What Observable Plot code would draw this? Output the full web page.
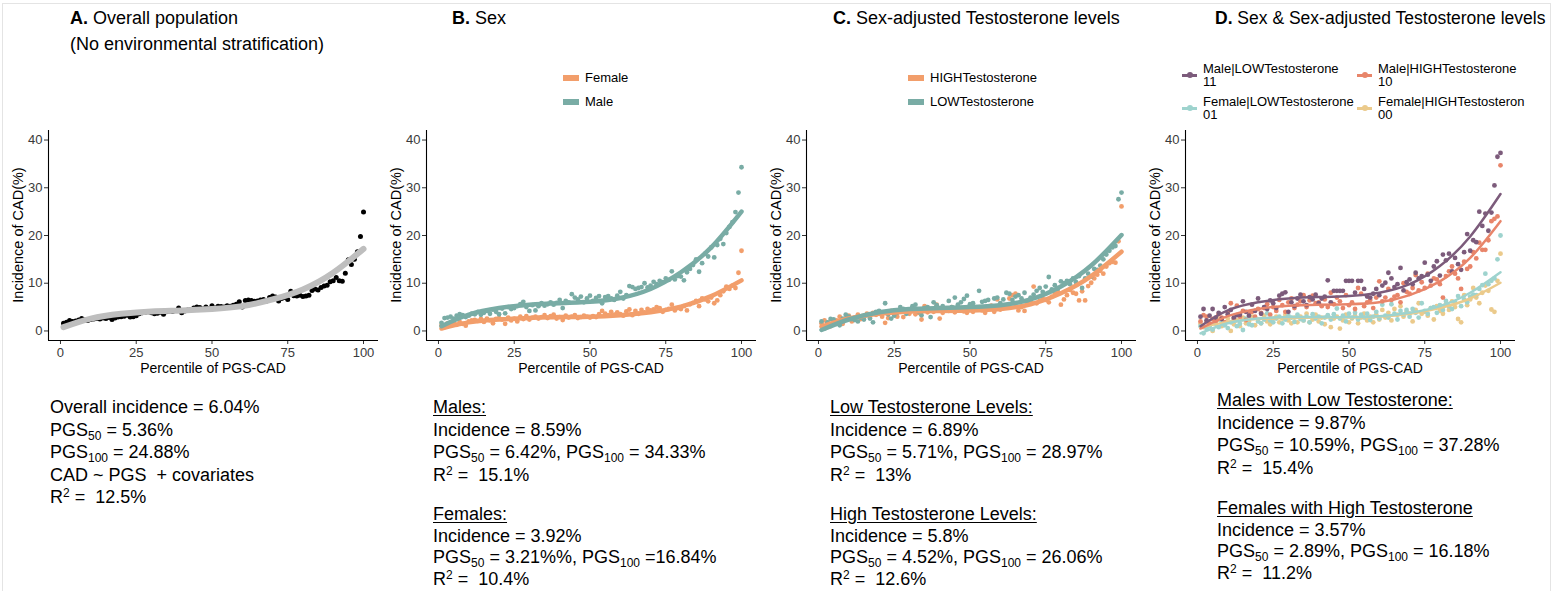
<!DOCTYPE html>
<html>
<head>
<meta charset="utf-8">
<script src="https://cdn.jsdelivr.net/npm/d3@7"></script>
<script src="https://cdn.jsdelivr.net/npm/@observablehq/plot@0.6"></script>
<style>
  html, body { margin: 0; padding: 0; background: #fff; }
  #fig { position: relative; width: 1556px; height: 591px; overflow: hidden; background: #fff;
         font-family: "Liberation Sans", Arial, sans-serif; color: #000; }
  .abs { position: absolute; white-space: nowrap; }
  .title { font-size: 18px; line-height: 26px; }
  .title b { font-weight: bold; }
  .ytitle { font-size: 14.5px; transform: translate(-50%, -50%) rotate(-90deg); }
  .xtitle { font-size: 14px; transform: translate(-50%, -50%); }
  .leg { font-size: 13px; line-height: 13px; }
  .stats { font-size: 18px; line-height: 22.5px; }
  .stats.tight { line-height: 21.5px; }
  .stats sub { font-size: 12px; vertical-align: -4px; line-height: 0; }
  .stats sup { font-size: 12px; vertical-align: 6px; line-height: 0; }
  .u { text-decoration: underline; text-underline-offset: 2px; }
</style>
</head>
<body>
<div id="fig"></div>
<script>
// ---------------- DATA ----------------
const percentiles = d3.range(1, 101);
const xTicks = [0, 25, 50, 75, 100];
const yTicks = [0, 10, 20, 30, 40];
const fitX = [1, 10, 20, 30, 40, 50, 60, 70, 80, 90, 100];

// Panel A: overall population
const overallPts = [1.6,1.8,2.2,2.0,2.1,2.3,2.6,2.3,2.2,2.4,
2.5,2.6,2.5,2.7,2.6,2.8,2.4,2.7,2.9,3.0,
3.1,3.3,2.9,3.0,3.2,3.6,3.8,3.9,4.0,3.8,
3.6,3.7,3.9,3.5,4.0,4.2,4.1,4.3,4.8,3.8,
4.2,4.4,4.5,4.8,5.0,4.9,4.6,5.0,4.7,5.3,
4.8,5.2,5.1,5.0,5.3,5.2,5.4,5.6,6.1,5.0,
6.4,6.5,6.4,6.2,6.3,6.5,6.6,6.3,7.0,7.3,
7.1,6.3,6.8,7.0,6.6,8.3,7.4,7.3,7.5,7.2,
7.3,7.5,8.5,8.8,8.6,9.1,9.4,9.6,10.3,10.5,
11.2,10.5,10.4,12.1,14.9,13.9,15.0,16.6,19.8,24.9];
const overallFit = [0.8,2.6,3.6,4.1,4.3,4.6,5.2,6.6,8.7,12.2,17.2];

// Panel B: sex
const malePts = [1.7,2.7,2.8,3.0,2.6,3.2,3.5,3.3,2.9,3.2,
3.6,3.5,4.0,3.4,3.8,4.2,3.6,4.5,4.0,3.5,
4.7,3.7,5.0,4.6,4.8,5.2,5.6,6.1,5.0,4.2,
5.4,4.3,5.2,5.8,5.3,5.6,6.0,5.5,5.9,6.5,
4.8,6.3,6.0,7.7,7.0,6.6,7.2,6.0,6.8,7.4,
6.3,6.9,7.3,5.8,7.1,7.3,6.8,6.5,7.4,8.2,
6.8,7.5,9.4,9.2,8.8,9.0,9.2,10.0,9.1,9.5,
10.3,9.8,10.5,10.2,11.0,10.7,12.5,10.8,11.5,11.4,
10.6,12.3,13.0,13.8,15.0,12.4,14.2,16.2,15.6,17.5,
15.4,18.0,19.3,18.2,20.5,21.8,22.8,24.9,29.0,34.3];
const femalePts = [1.2,0.8,1.6,1.2,1.8,1.3,1.9,1.5,1.1,2.0,
2.2,2.3,2.1,2.5,1.9,2.6,2.2,1.6,2.5,2.7,
2.4,1.5,2.8,2.2,2.6,2.0,3.0,2.5,3.1,2.4,
2.8,3.0,2.6,2.9,3.3,2.7,3.1,3.4,2.6,2.9,
2.3,3.2,2.8,3.0,3.3,2.7,2.9,3.2,3.0,2.8,
3.1,2.9,3.5,4.2,3.6,3.3,4.0,3.4,3.9,3.5,
3.2,4.1,4.5,3.3,4.2,3.6,4.4,3.9,4.6,4.3,
4.5,5.0,4.8,4.0,4.4,4.6,5.5,4.3,4.8,4.6,
5.2,4.3,5.6,5.9,6.3,5.2,6.8,6.6,6.2,7.0,
5.8,6.4,7.5,8.3,9.3,8.8,9.5,9.0,12.2,16.8];
const maleFit = [1.0,3.4,4.8,5.5,5.8,6.1,6.9,8.8,12.3,17.5,25.0];
const femaleFit = [0.5,1.8,2.4,2.7,2.9,3.0,3.3,3.9,5.1,7.3,10.6];

// Panel C: sex-adjusted testosterone
const lowTPts = [2.0,0.5,1.8,2.5,2.4,1.5,1.2,2.6,3.4,3.0,
2.5,2.3,2.0,2.8,2.4,3.3,2.6,1.8,4.0,4.2,
3.8,5.8,3.5,2.6,3.2,3.8,5.0,4.6,3.6,4.5,
5.2,5.5,4.0,3.3,4.8,5.0,2.9,6.0,5.4,4.6,
5.2,4.4,6.3,5.0,7.0,5.5,6.0,6.7,7.4,5.6,
5.8,4.8,8.4,6.1,6.3,6.5,5.2,6.8,7.0,5.8,
6.6,8.0,7.8,6.5,7.2,7.5,6.8,8.0,6.2,7.0,
7.6,8.4,9.0,8.2,9.3,11.3,8.7,9.6,8.9,10.4,
10.0,10.5,9.8,11.0,10.2,11.5,9.0,11.0,12.0,11.4,
13.0,12.8,13.7,15.0,16.0,16.8,17.5,17.8,27.6,29.0];
const highTPts = [1.6,2.2,1.8,1.0,1.5,2.2,3.0,1.5,2.6,3.2,
2.0,2.8,3.4,2.5,3.0,3.6,2.9,3.8,3.4,3.9,
3.0,1.7,2.7,4.2,3.5,3.0,4.4,2.9,4.0,3.6,
4.8,3.5,3.8,2.4,5.2,3.9,4.4,4.0,5.5,2.6,
3.8,4.6,4.2,5.0,3.9,4.5,4.8,4.1,3.8,4.4,
4.0,4.7,5.0,4.3,3.8,4.6,5.3,4.0,6.6,4.5,
4.8,5.4,6.8,7.5,7.8,4.3,5.0,4.2,5.6,6.2,
9.3,5.8,6.3,6.8,6.5,6.0,7.2,7.8,8.2,5.5,
6.6,7.5,8.6,8.0,7.8,6.4,8.3,6.4,9.4,10.1,
11.0,11.8,12.6,12.0,13.5,14.2,14.5,14.3,18.8,26.1];
const lowTFit = [0.2,2.4,3.9,4.6,4.8,5.0,5.4,6.6,9.3,13.7,20.1];
const highTFit = [0.9,2.6,3.6,4.1,4.2,4.3,4.6,5.6,7.9,11.5,16.6];

// Panel D: sex x testosterone
const maleLowPts = [3.0,4.6,2.2,3.2,4.6,2.8,3.8,2.5,5.0,3.5,
4.4,2.8,3.3,3.4,6.2,4.0,3.2,5.5,4.2,6.8,
3.6,5.0,4.6,6.4,5.8,4.8,7.4,7.8,8.1,4.0,
6.0,5.2,6.8,7.6,6.2,5.4,7.1,6.6,7.6,5.8,
6.8,7.2,10.6,6.0,8.4,8.4,8.4,8.4,10.5,10.5,
10.5,8.0,10.5,10.5,8.8,7.2,7.0,7.8,8.8,7.5,
9.5,10.1,12.2,11.0,9.2,9.8,13.2,8.5,10.2,10.8,
9.8,12.2,11.0,11.5,14.3,11.8,10.5,13.5,14.6,11.6,
16.0,14.8,16.2,12.5,15.3,14.0,12.8,16.5,20.3,16.8,
19.0,18.6,25.0,22.0,24.6,21.0,24.8,30.5,36.5,37.3];
const maleHighPts = [2.0,3.3,3.0,1.6,2.5,2.0,3.5,2.8,1.8,3.9,
5.8,2.6,5.3,3.0,4.2,2.3,3.6,4.0,3.0,4.6,
3.8,4.8,5.6,3.4,5.0,4.2,6.5,5.4,4.0,6.0,
6.8,4.8,5.5,6.2,7.5,5.0,6.4,7.4,5.8,6.0,
5.2,6.6,5.0,8.0,5.6,7.0,6.2,4.8,7.5,5.4,
6.0,4.6,9.0,7.8,5.2,6.0,6.5,4.8,7.0,10.4,
6.2,7.0,8.8,6.5,7.2,7.5,6.0,10.0,8.2,7.8,
9.0,11.7,8.5,10.2,9.0,12.0,9.5,11.0,10.8,9.8,
7.0,11.5,12.5,13.5,12.0,11.0,8.8,14.5,13.0,13.5,
16.5,15.2,18.5,17.0,17.0,19.0,23.0,23.5,24.0,34.7];
const femaleLowPts = [1.0,-0.5,0.5,1.0,0.3,1.5,0.8,2.0,1.2,0.6,
1.8,2.4,1.0,1.5,0.2,2.6,1.4,1.2,2.8,2.0,
1.6,2.4,3.7,2.2,1.8,2.6,3.0,1.6,2.4,3.2,
2.8,1.9,3.4,2.5,2.2,3.0,1.8,3.5,2.6,3.0,
1.6,2.8,3.3,2.4,3.5,4.7,2.6,3.2,2.0,3.6,
2.8,3.8,2.4,3.4,2.8,3.6,2.3,3.0,4.0,2.6,
5.5,3.2,2.8,5.6,3.6,2.4,4.2,3.4,4.4,3.0,
4.6,3.8,2.8,5.8,4.2,3.6,4.8,5.0,3.8,5.4,
4.4,6.3,5.2,4.6,6.0,7.3,5.2,6.6,6.0,7.2,
7.6,7.5,8.8,9.6,12.0,9.8,10.5,11.0,15.0,20.0];
const femaleHighPts = [1.5,0.8,2.0,1.2,0.0,1.6,2.4,1.0,1.8,2.6,
0.0,1.4,2.2,1.0,2.8,1.6,2.0,3.0,1.2,2.4,
1.6,3.2,2.0,1.4,2.6,3.0,1.8,2.6,3.4,2.2,
1.6,2.8,1.8,3.0,2.2,3.6,1.8,2.4,3.4,2.0,
2.8,1.4,3.2,0.8,2.6,3.0,0.5,2.2,3.4,1.8,
2.6,3.2,1.6,2.8,3.6,2.2,3.0,1.8,3.4,2.4,
4.4,2.8,3.8,2.2,4.6,3.4,5.2,3.0,4.0,3.6,
2.0,4.4,5.8,3.6,4.0,3.2,4.8,2.4,5.2,4.2,
3.6,5.6,4.4,6.2,5.0,2.5,1.8,7.5,5.4,6.6,
9.0,7.0,5.8,8.0,9.5,8.4,4.5,4.0,10.5,16.2];
const maleLowFit = [1.0,4.3,6.0,6.8,7.1,7.3,8.0,9.8,13.6,19.8,28.7];
const maleHighFit = [0.5,3.1,4.6,5.3,5.5,5.6,6.0,7.5,10.4,15.3,23.0];
const femaleLowFit = [-0.5,1.6,2.6,2.9,2.9,2.9,3.1,3.8,5.2,8.0,12.3];
const femaleHighFit = [0.7,1.9,2.5,2.7,2.8,2.8,3.0,3.6,4.8,6.8,10.1];

// ---------------- STYLE ----------------
const C = {
  black: "#000000", gray: "#BEBEBE",
  teal: "#79ACA5", orange: "#F29E6B",
  purple: "#7C5B7B", coral: "#E8856A", ltteal: "#9ED3CE", tan: "#EBCA8B"
};
const X0 = -3.95, X1 = 104.95, Y0 = -2, Y1 = 42;
const fig = document.getElementById("fig");

function place(el, left, top) {
  el.style.position = "absolute";
  el.style.left = left + "px";
  el.style.top = top + "px";
  fig.appendChild(el);
}
function html(cls, left, top, content) {
  const d = document.createElement("div");
  d.className = "abs " + cls;
  d.innerHTML = content;
  place(d, left, top);
  return d;
}

function panel(left, groups, fitWidth, r) {
  const marks = [
    Plot.axisX({ticks: xTicks, tickSize: 4, tickPadding: 3, label: null, stroke: "#333", fill: "#3a3a3a", fontSize: 13}),
    Plot.axisY({ticks: yTicks, tickSize: 4, tickPadding: 2, label: null, stroke: "#333", fill: "#3a3a3a", fontSize: 13}),
    Plot.ruleX([X0], {stroke: "#000", strokeWidth: 1.1}),
    Plot.ruleY([Y0], {stroke: "#000", strokeWidth: 1.1})
  ];
  for (const g of groups) {
    marks.push(Plot.dot(percentiles.map((p, i) => ({x: p, y: g.pts[i]})),
      {x: "x", y: "y", r: r, fill: g.ptColor, stroke: "none"}));
  }
  for (const g of groups) {
    marks.push(Plot.line(fitX.map((p, i) => ({x: p, y: g.fit[i]})),
      {x: "x", y: "y", stroke: g.lineColor, strokeWidth: fitWidth, curve: "natural"}));
  }
  const svg = Plot.plot({
    width: 385, height: 255,
    marginLeft: 48, marginRight: 7, marginTop: 5, marginBottom: 40,
    x: {domain: [X0, X1], axis: null},
    y: {domain: [Y0, Y1], axis: null},
    style: {fontFamily: "'Liberation Sans', Arial, sans-serif", fontSize: "13px", background: "transparent", overflow: "visible"},
    marks
  });
  place(svg, left, 125);
  // axis titles
  html("xtitle", left + 48 + 165, 368, "Percentile of PGS-CAD");
  html("ytitle", left + 18, 235, "Incidence of CAD(%)");
}

// frame border
const border = document.createElement("div");
border.style.cssText = "position:absolute;left:2px;top:3px;width:1547px;height:640px;border:1px solid #e4e4e4;";
fig.appendChild(border);

// Panels
panel(0, [{pts: overallPts, fit: overallFit, ptColor: C.black, lineColor: C.gray}], 6, 2.5);
panel(378, [
  {pts: femalePts, fit: femaleFit, ptColor: C.orange, lineColor: C.orange},
  {pts: malePts, fit: maleFit, ptColor: C.teal, lineColor: C.teal}], 4.5, 2.4);
panel(758, [
  {pts: highTPts, fit: highTFit, ptColor: C.orange, lineColor: C.orange},
  {pts: lowTPts, fit: lowTFit, ptColor: C.teal, lineColor: C.teal}], 4.5, 2.4);
panel(1137, [
  {pts: femaleHighPts, fit: femaleHighFit, ptColor: C.tan, lineColor: C.tan},
  {pts: femaleLowPts, fit: femaleLowFit, ptColor: C.ltteal, lineColor: C.ltteal},
  {pts: maleHighPts, fit: maleHighFit, ptColor: C.coral, lineColor: C.coral},
  {pts: maleLowPts, fit: maleLowFit, ptColor: C.purple, lineColor: C.purple}], 2.5, 2.4);

// Titles
html("title", 70, 5, "<b>A.</b> Overall population<br>(No environmental stratification)");
html("title", 452, 5, "<b>B.</b> Sex");
html("title", 833, 5, "<b>C.</b> Sex-adjusted Testosterone levels");
const tD = html("title", 1215, 5, "<b>D.</b> Sex &amp; Sex-adjusted Testosterone levels");
tD.style.fontSize = "17.5px";

// Legends B and C
function swatchLegend(x, items) {
  items.forEach((it, i) => {
    const y = 78 + i * 24;
    const s = document.createElement("div");
    s.style.cssText = `position:absolute;left:${x}px;top:${y - 3}px;width:16px;height:6px;background:${it.color};`;
    fig.appendChild(s);
    html("leg", x + 22, y - 7, it.label);
  });
}
swatchLegend(563, [{label: "Female", color: C.orange}, {label: "Male", color: C.teal}]);
swatchLegend(908, [{label: "HIGHTestosterone", color: C.orange}, {label: "LOWTestosterone", color: C.teal}]);

// Legend D
function dLegendItem(x, y, color, l1, l2) {
  const s = document.createElement("div");
  s.style.cssText = `position:absolute;left:${x}px;top:${y - 1.5}px;width:15px;height:3px;background:${color};`;
  fig.appendChild(s);
  const dot = document.createElement("div");
  dot.style.cssText = `position:absolute;left:${x + 4.5}px;top:${y - 3}px;width:6px;height:6px;border-radius:50%;background:${color};`;
  fig.appendChild(dot);
  html("leg", x + 21, y - 13, l1 + "<br>" + l2);
}
dLegendItem(1182, 75, C.purple, "Male|LOWTestosterone", "11");
dLegendItem(1357, 75, C.coral, "Male|HIGHTestosterone", "10");
dLegendItem(1182, 108, C.ltteal, "Female|LOWTestosterone", "01");
dLegendItem(1357, 108, C.tan, "Female|HIGHTestosteron", "00");

// Stats text
html("stats", 50, 396,
  "Overall incidence = 6.04%<br>PGS<sub>50</sub> = 5.36%<br>PGS<sub>100</sub> = 24.88%<br>CAD ~ PGS&nbsp; + covariates<br>R<sup>2</sup> =&nbsp; 12.5%");
html("stats", 433, 396,
  "<span class='u'>Males:</span><br>Incidence = 8.59%<br>PGS<sub>50</sub> = 6.42%, PGS<sub>100</sub> = 34.33%<br>R<sup>2</sup> =&nbsp; 15.1%");
html("stats tight", 433, 504,
  "<span class='u'>Females:</span><br>Incidence = 3.92%<br>PGS<sub>50</sub> = 3.21%%, PGS<sub>100</sub> =16.84%<br>R<sup>2</sup> =&nbsp; 10.4%");
html("stats", 830, 396,
  "<span class='u'>Low Testosterone Levels:</span><br>Incidence = 6.89%<br>PGS<sub>50</sub> = 5.71%, PGS<sub>100</sub> = 28.97%<br>R<sup>2</sup> =&nbsp; 13%");
html("stats tight", 830, 504,
  "<span class='u'>High Testosterone Levels:</span><br>Incidence = 5.8%<br>PGS<sub>50</sub> = 4.52%, PGS<sub>100</sub> = 26.06%<br>R<sup>2</sup> =&nbsp; 12.6%");
html("stats", 1217, 389,
  "<span class='u'>Males with Low Testosterone:</span><br>Incidence = 9.87%<br>PGS<sub>50</sub> = 10.59%, PGS<sub>100</sub> = 37.28%<br>R<sup>2</sup> =&nbsp; 15.4%");
html("stats tight", 1217, 498,
  "<span class='u'>Females with High Testosterone</span><br>Incidence = 3.57%<br>PGS<sub>50</sub> = 2.89%, PGS<sub>100</sub> = 16.18%<br>R<sup>2</sup> =&nbsp; 11.2%");
</script>
</body>
</html>
